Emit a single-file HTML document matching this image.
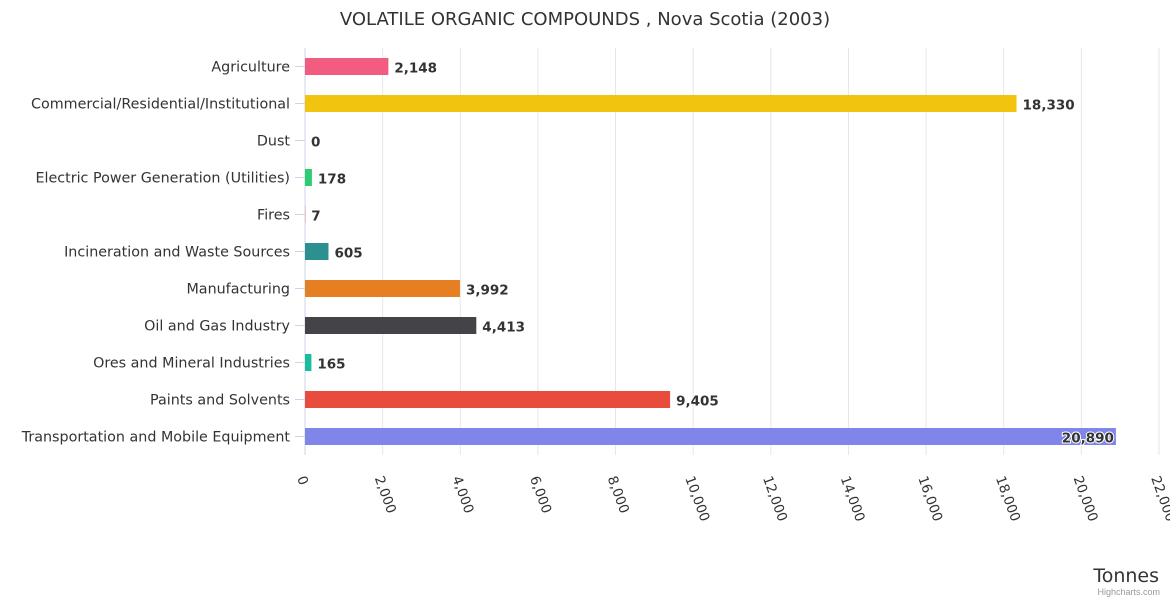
<!DOCTYPE html>
<html><head><meta charset="utf-8"><style>
body{margin:0;background:#fff;font-family:"Liberation Sans","DejaVu Sans",sans-serif}
</style></head><body>
<svg id="chart" width="1170" height="600" xmlns="http://www.w3.org/2000/svg">
<text x="585" y="25" text-anchor="middle" font-size="18" fill="#333" font-family="DejaVu Sans, sans-serif">VOLATILE ORGANIC COMPOUNDS , Nova Scotia (2003)</text>
<g id="grid"></g><g id="bars"></g><g id="ylabels"></g><g id="xlabels"></g>
<text x="1159" y="582" text-anchor="end" font-size="19" fill="#333" font-family="DejaVu Sans, sans-serif">Tonnes</text>
<text x="1160" y="595" text-anchor="end" font-size="9" fill="#999">Highcharts.com</text>
</svg>
<script>
const categories=["Agriculture","Commercial/Residential/Institutional","Dust","Electric Power Generation (Utilities)","Fires","Incineration and Waste Sources","Manufacturing","Oil and Gas Industry","Ores and Mineral Industries","Paints and Solvents","Transportation and Mobile Equipment"];
const values=[2148,18330,0,178,7,605,3992,4413,165,9405,20890];
const colors=["#f15c80","#f1c40f","#2ecc71","#2ecc71","#e74c3c","#2b908f","#e67e22","#434348","#1abc9c","#e74c3c","#8085e9"];
const ticks=[0,2000,4000,6000,8000,10000,12000,14000,16000,18000,20000,22000];
const NS="http://www.w3.org/2000/svg";
const plotX0=305,plotX1=1159,plotTop=48,plotBottom=455,maxV=22000;
const xs=v=>plotX0+(v/maxV)*(plotX1-plotX0);
const step=(plotBottom-plotTop)/categories.length;
const yc=i=>plotTop+step*(i+0.5);
function mk(tag,attrs,parent,txt){const e=document.createElementNS(NS,tag);for(const k in attrs)e.setAttribute(k,attrs[k]);if(txt!==undefined)e.textContent=txt;document.getElementById(parent).appendChild(e);return e;}
const fmt=v=>v.toLocaleString("en-US");
ticks.forEach(t=>{
  const x=xs(t);
  const g=mk("line",{x1:x,x2:x,y1:plotTop,y2:plotBottom,stroke:t===0?"#ccd6eb":"#e6e6e6","stroke-width":1},"grid");
  
  
  const l=mk("text",{x:x-8,y:478,"font-size":13.5,fill:"#333","font-family":"DejaVu Sans, sans-serif",transform:`rotate(70 ${x-8} 478)`},"xlabels",fmt(t));
  
  
});
categories.forEach((c,i)=>{
  const y=yc(i);
  const tk=mk("line",{x1:plotX0-10,x2:plotX0,y1:y,y2:y,stroke:"#ccd6eb"},"grid");
  
  
  const lab=mk("text",{x:290,y:y+5,"text-anchor":"end","font-size":14.3,fill:"#333","font-family":"DejaVu Sans, sans-serif"},"ylabels",c);
  
  
  const w=xs(values[i])-plotX0;
  const b=mk("rect",{x:plotX0,y:y-8.5,width:Math.max(w,0),height:17,fill:colors[i]},"bars");
  
  
  const inside=w>780;
  const vl=mk("text",{x:inside?plotX0+w-2:plotX0+w+6,y:y+6,"text-anchor":inside?"end":"start","font-size":13.5,"font-weight":"bold",fill:"#333",stroke:"#fff","stroke-width":inside?2:0,"paint-order":"stroke","font-family":"DejaVu Sans, sans-serif"},"bars",fmt(values[i]));
  
  
});
const ax=mk("line",{x1:plotX0,x2:plotX0,y1:plotTop,y2:plotBottom,stroke:"#ccd6eb"},"grid");


</script>
</body></html>
